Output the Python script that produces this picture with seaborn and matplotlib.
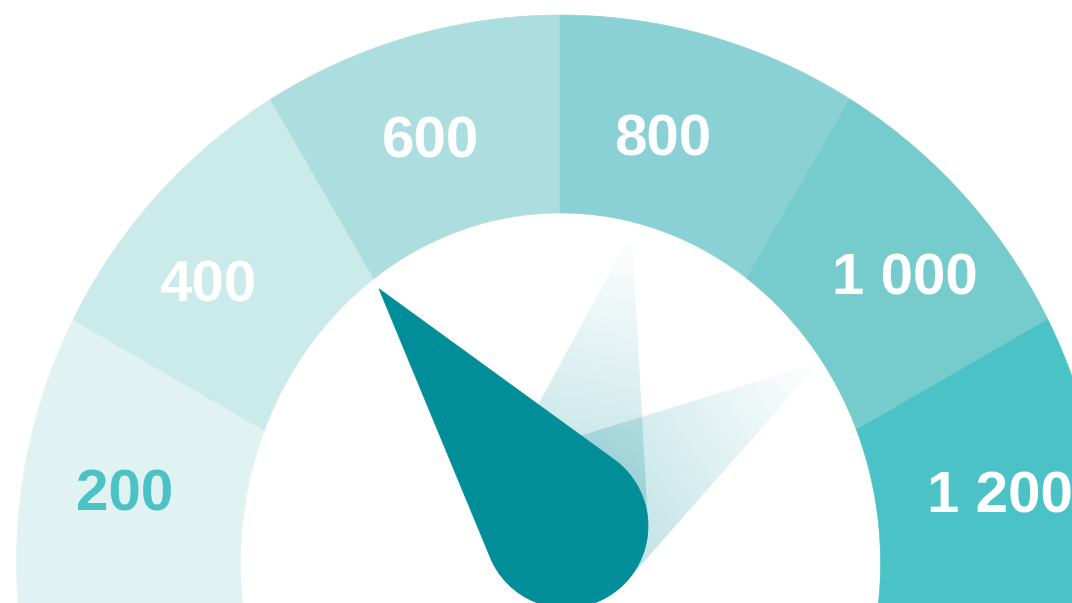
import numpy as np
import matplotlib
matplotlib.use("Agg")
import matplotlib.pyplot as plt
from matplotlib.patches import Polygon
from matplotlib.colors import to_rgb
import seaborn as sns

# ---------------- data ----------------
band_labels = ["200", "400", "600", "800", "1 000", "1 200"]
band_edges = [0, 200, 400, 600, 800, 1000, 1200]
band_colors = ["#E0F2F2", "#CBEAEA", "#ACDEE0", "#89D1D5", "#76CBCD", "#4AC2C6"]
label_colors = ["#4AC2C6", "white", "white", "white", "white", "white"]
needle_value = 345
trail_values = [684, 981]
scale_max = 1200
needle_color = "#018E99"

# label layout tweaks (angular nudge in degrees, radial fraction across ring)
label_nudge_deg = [0.7, 2.7, 0.6, 2.6, -1.6, -1.1]
label_frac = [0.545, 0.565, 0.49, 0.46, 0.553, 0.558]

# ---------------- style ----------------
sns.set_theme(style="white")
plt.rcParams["font.family"] = ["Liberation Sans", "DejaVu Sans"]

W, H = 1072, 603
fig = plt.figure(figsize=(W / 100, H / 100), dpi=100)
ax = fig.add_axes([0, 0, 1, 1])

# geometry in pixel space (y down)
F = np.array([560.0, 601.0])    # origin of band dividing rays
C = np.array([560.5, 563.0])    # centre of ring ellipses
OUT = (544.0, 548.0)
INN = (320.0, 350.0)
P = np.array([566.0, 526.0])    # needle pivot
NL, NR = 302.0, 82.0            # needle length and head radius


def val2ang(v):
    return np.pi * (1 - np.asarray(v, dtype=float) / scale_max)


def ray_hit(theta, ab):
    theta = np.atleast_1d(theta)
    dx, dy = np.cos(theta), -np.sin(theta)
    ox, oy = F - C
    a, b = ab
    A = (dx / a) ** 2 + (dy / b) ** 2
    B = 2 * (ox * dx / a ** 2 + oy * dy / b ** 2)
    Cc = (ox / a) ** 2 + (oy / b) ** 2 - 1
    s = (-B + np.sqrt(B * B - 4 * A * Cc)) / (2 * A)
    return np.column_stack([F[0] + s * dx, F[1] + s * dy]), s


def teardrop(theta, n=160):
    d = np.array([np.cos(theta), -np.sin(theta)])
    tip = P + NL * d
    half = np.arcsin(NR / NL)
    base = np.arctan2(d[1], d[0])
    phi = np.linspace(base + (np.pi / 2 - half), base + 2 * np.pi - (np.pi / 2 - half), n)
    arc = P + NR * np.column_stack([np.cos(phi), np.sin(phi)])
    return np.vstack([tip, arc]), tip


# ---------------- bands ----------------
ext = 0.06
nb = len(band_labels)
for i in range(nb):
    t0 = float(val2ang(band_edges[i]))
    t1 = float(val2ang(band_edges[i + 1]))
    if i == 0:
        t0 += ext
    if i == nb - 1:
        t1 -= ext
    th = np.linspace(t0, t1, 120)
    outer, _ = ray_hit(th, OUT)
    inner, _ = ray_hit(th, INN)
    pts = np.vstack([outer, inner[::-1]])
    ax.add_patch(Polygon(pts, closed=True, facecolor=band_colors[i],
                         edgecolor=band_colors[i], linewidth=0.4, zorder=1))

    mid = float(val2ang((band_edges[i] + band_edges[i + 1]) / 2)) + np.radians(label_nudge_deg[i])
    _, so = ray_hit(mid, OUT)
    _, si = ray_hit(mid, INN)
    s = si[0] + label_frac[i] * (so[0] - si[0])
    x = F[0] + s * np.cos(mid)
    y = F[1] - s * np.sin(mid)
    ax.text(x, y + 20.5, band_labels[i], ha="center", va="baseline",
            fontsize=42, fontweight="bold", color=label_colors[i], zorder=6)

# ---------------- trailing ghost needles ----------------
yy, xx = np.mgrid[0:H, 0:W] + 0.5
rgb = np.array(to_rgb(needle_color))
for v in trail_values:
    poly, tip = teardrop(float(val2ang(v)))
    patch = Polygon(poly, closed=True, facecolor="none", edgecolor="none")
    ax.add_patch(patch)
    u = (P - tip) / NL
    t = ((xx - tip[0]) * u[0] + (yy - tip[1]) * u[1]) / NL
    img = np.zeros((H, W, 4))
    img[..., :3] = rgb
    img[..., 3] = 0.28 * np.clip(t, 0, 1)
    im = ax.imshow(img, extent=(0, W, H, 0), origin="upper", zorder=3,
                   interpolation="bilinear", aspect="auto")
    im.set_clip_path(patch)

# ---------------- main needle ----------------
poly, _ = teardrop(float(val2ang(needle_value)))
ax.add_patch(Polygon(poly, closed=True, facecolor=needle_color,
                     edgecolor=needle_color, linewidth=0.5, zorder=4))

ax.set_xlim(0, W)
ax.set_ylim(H, 0)
ax.axis("off")
fig.savefig("out.png", dpi=100, facecolor="white")
